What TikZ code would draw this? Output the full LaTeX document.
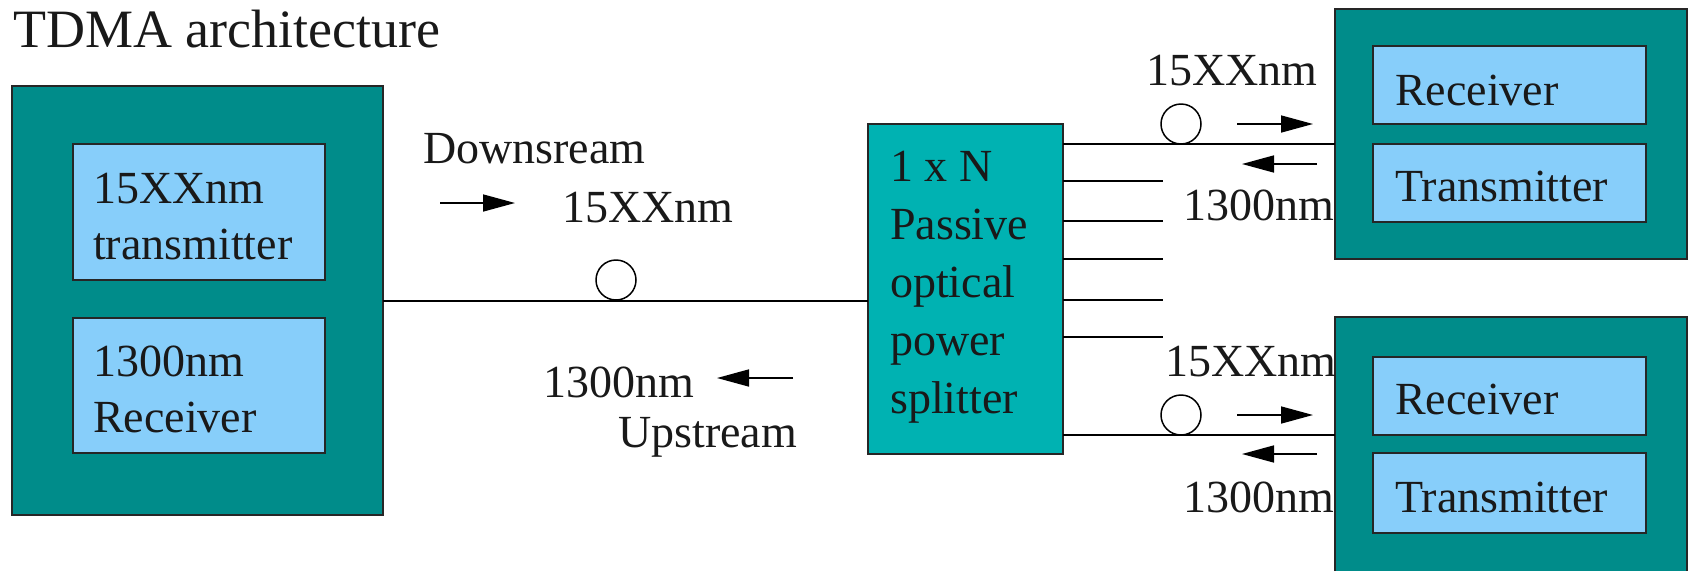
\documentclass[tikz,border=0pt]{standalone}
\usepackage{fontspec}
\setmainfont{Liberation Serif}
\usetikzlibrary{arrows.meta}
\definecolor{tealdark}{RGB}{0,140,138}
\definecolor{tealsplit}{RGB}{0,178,178}
\definecolor{skyin}{RGB}{135,206,250}
\newcommand{\mystack}[1]{\begin{tabular}[t]{@{}l@{}}#1\end{tabular}}
\begin{document}
\begin{tikzpicture}[x=1pt,y=-1pt,
  unit/.style={draw=black!85, line width=2pt, fill=tealdark, inner sep=0pt, outer sep=0pt},
  part/.style={draw=black!85, line width=2pt, fill=skyin, inner sep=0pt, outer sep=0pt},
  splitbox/.style={draw=black!85, line width=2pt, fill=tealsplit, inner sep=0pt, outer sep=0pt},
  lbl/.style={anchor=base west, inner sep=0pt, text=black!90, font=\rmfamily\fontsize{46}{56}\selectfont},
  fibre/.style={line width=2pt},
  loop/.style={circle, draw, line width=1.5pt, minimum size=40pt, inner sep=0pt},
  flow/.style={line width=1.6pt, -{Triangle[length=32pt,width=17pt]}}]
\useasboundingbox (0,0) rectangle (1690,571);

% title
\node[lbl, font=\rmfamily\fontsize{54}{60}\selectfont] (title) at (13,47) {TDMA architecture};

% OLT
\node[unit, minimum width=371pt, minimum height=429pt] (olt) at (197.5,300.5) {};
\node[part, minimum width=252pt, minimum height=136pt] (olttx) at (199,212) {};
\node[part, minimum width=252pt, minimum height=135pt] (oltrx) at (199,385.5) {};
\node[lbl] (olttxt) at (93,203) {\mystack{15XXnm\\transmitter}};
\node[lbl] (oltrxt) at (93,376) {\mystack{1300nm\\Receiver}};

% splitter
\node[splitbox, minimum width=195pt, minimum height=330pt] (split) at (965.5,289) {};
\node[lbl, font=\rmfamily\fontsize{46}{58}\selectfont] (splitt) at (890,181) {\mystack{1 x N\\Passive\\optical\\power\\splitter}};

% ONU 1
\node[unit, minimum width=352pt, minimum height=250pt] (onu1) at (1511,134) {};
\node[part, minimum width=273pt, minimum height=78pt] (rx1) at (1509.5,85) {};
\node[part, minimum width=273pt, minimum height=78pt] (tx1) at (1509.5,183) {};
\node[lbl] (rx1t) at (1395,105) {Receiver};
\node[lbl] (tx1t) at (1395,201) {Transmitter};

% ONU 2 (cut by the lower edge)
\node[unit, draw=none, minimum width=352pt, minimum height=254pt] (onu2) at (1511,444) {};
\draw[line width=2pt, draw=black!85] (onu2.south west) -- (onu2.north west) -- (onu2.north east) -- (onu2.south east);
\node[part, minimum width=273pt, minimum height=78pt] (rx2) at (1509.5,396) {};
\node[part, minimum width=273pt, minimum height=80pt] (tx2) at (1509.5,493) {};
\node[lbl] (rx2t) at (1395,414) {Receiver};
\node[lbl] (tx2t) at (1395,512) {Transmitter};

% fibres
\draw[fibre] (olt.east |- 0,301) -- (split.west |- 0,301);
\draw[fibre] (split.east |- 0,144) -- (onu1.west |- 0,144);
\foreach \yy in {181,221,259,300,337} \draw[fibre] (split.east |- 0,\yy) -- (1163,\yy);
\draw[fibre] (split.east |- 0,435) -- (onu2.west |- 0,435);

% fibre loops
\node[loop] (c0) at (616,280) {};
\node[loop] (c1) at (1181,124) {};
\node[loop] (c2) at (1181,415) {};

% direction arrows
\draw[flow] (440,203) -- (515,203);
\draw[flow] (793,378) -- (717,378);
\draw[flow] (1237,124) -- (1313,124);
\draw[flow] (1317,164) -- (1242,164);
\draw[flow] (1237,415) -- (1313,415);
\draw[flow] (1317,454) -- (1242,454);

% labels
\node[lbl] (down) at (423,163) {Downsream};
\node[lbl] (w0) at (562,222) {15XXnm};
\node[lbl] (u0) at (543,397) {1300nm};
\node[lbl] (up) at (618,447) {Upstream};
\node[lbl] (w1) at (1146,85) {15XXnm};
\node[lbl] (u1) at (1183,220) {1300nm};
\node[lbl] (w2) at (1165,376) {15XXnm};
\node[lbl] (u2) at (1183,512) {1300nm};
\end{tikzpicture}
\end{document}
